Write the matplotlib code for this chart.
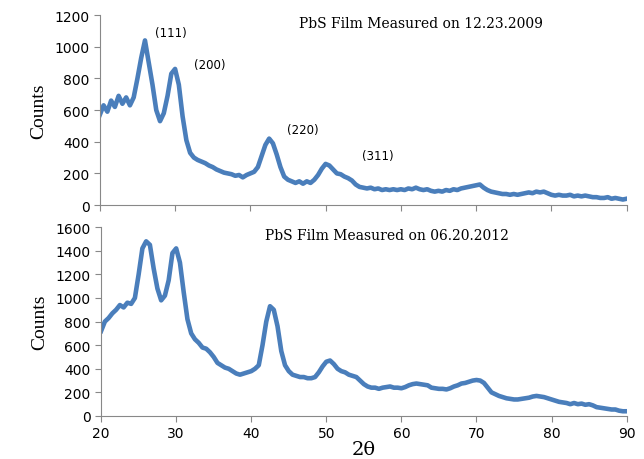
import numpy as np
import matplotlib
matplotlib.use("Agg")
import matplotlib.pyplot as plt

# 2-theta sampling (degrees), 0.5 deg steps from 20 to 90
two_theta = np.arange(20, 90.25, 0.5)

counts_2009 = [
    570, 630, 590, 660, 620, 690, 640, 680, 630, 680,
    800, 930, 1040, 900, 760, 600, 530, 580, 690, 830,
    860, 760, 560, 410, 330, 300, 285, 275, 265, 250,
    240, 225, 215, 205, 200, 195, 185, 190, 175, 190,
    200, 210, 240, 310, 380, 420, 390, 320, 240, 180,
    160, 150, 140, 150, 135, 150, 140, 160, 190, 230,
    260, 250, 225, 200, 195, 180, 170, 155, 130, 115,
    110, 105, 110, 100, 105, 95, 100, 95, 100, 95,
    100, 95, 105, 100, 110, 100, 95, 100, 90, 85,
    90, 85, 95, 90, 100, 95, 105, 110, 115, 120,
    125, 130, 110, 95, 85, 80, 75, 70, 70, 65,
    70, 65, 70, 75, 80, 75, 85, 80, 85, 75,
    65, 60, 65, 60, 60, 65, 55, 60, 55, 60,
    55, 50, 50, 45, 45, 50, 40, 45, 40, 35,
    40,
]

counts_2012 = [
    720, 800, 830, 870, 900, 940, 920, 960, 950, 1000,
    1200, 1420, 1480, 1450, 1250, 1080, 980, 1020, 1150, 1380,
    1420, 1300, 1050, 820, 700, 650, 620, 580, 570, 540,
    500, 450, 430, 410, 400, 380, 360, 350, 360, 370,
    380, 400, 430, 600, 800, 930, 900, 760, 550, 430,
    380, 350, 340, 330, 330, 320, 320, 330, 370, 420,
    460, 470, 440, 400, 380, 370, 350, 340, 330, 300,
    270, 250, 240, 240, 230, 240, 245, 250, 240, 240,
    235, 245, 260, 270, 275, 270, 265, 260, 240, 235,
    230, 230, 225, 235, 250, 260, 275, 280, 290, 300,
    305, 300, 280, 240, 200, 185, 170, 160, 150, 145,
    140, 140, 145, 150, 155, 165, 170, 165, 160, 150,
    140, 130, 120, 115, 110, 100, 110, 100, 105, 95,
    100, 90, 75, 70, 65, 60, 55, 55, 45, 40,
    40,
]

peak_labels = ["(111)", "(200)", "(220)", "(311)"]
peak_label_pos = [(29.4, 1090), (34.6, 885), (47.0, 480), (56.9, 316)]

line_color = "#4a7ebb"
spine_color = "#888888"

fig = plt.figure(figsize=(6.44, 4.6), dpi=100)
ax1 = fig.add_axes([0.155, 0.552, 0.818, 0.413])
ax2 = fig.add_axes([0.157, 0.0935, 0.816, 0.4105])


def style_axes(ax):
    for side in ["top", "right"]:
        ax.spines[side].set_visible(False)
    for side in ["left", "bottom"]:
        ax.spines[side].set_color(spine_color)
    ax.tick_params(direction="out", length=4, color=spine_color,
                   labelsize=10, labelcolor="black")
    ax.set_xlim(20, 90)
    ax.set_xticks(range(20, 91, 10))


ax1.plot(two_theta, counts_2009, color=line_color, lw=3.3)
style_axes(ax1)
ax1.set_ylim(0, 1200)
ax1.set_yticks(range(0, 1201, 200))
ax1.set_xticklabels([])
ax1.set_ylabel("Counts", family="Liberation Serif", fontsize=14, labelpad=5)
ax1.text(0.61, 0.96, "PbS Film Measured on 12.23.2009", transform=ax1.transAxes,
         ha="center", va="center", family="DejaVu Serif", fontsize=10)
for lab, (px, py) in zip(peak_labels, peak_label_pos):
    ax1.text(px, py, lab, fontsize=8.5, ha="center", va="center")

ax2.plot(two_theta, counts_2012, color=line_color, lw=3.3)
style_axes(ax2)
ax2.set_ylim(0, 1600)
ax2.set_yticks(range(0, 1601, 200))
ax2.set_ylabel("Counts", family="Liberation Serif", fontsize=14, labelpad=5)
ax2.set_xlabel("2θ", family="DejaVu Serif", fontsize=14, labelpad=0)
ax2.text(0.544, 0.96, "PbS Film Measured on 06.20.2012", transform=ax2.transAxes,
         ha="center", va="center", family="DejaVu Serif", fontsize=10)

fig.savefig("out.png", dpi=100)
